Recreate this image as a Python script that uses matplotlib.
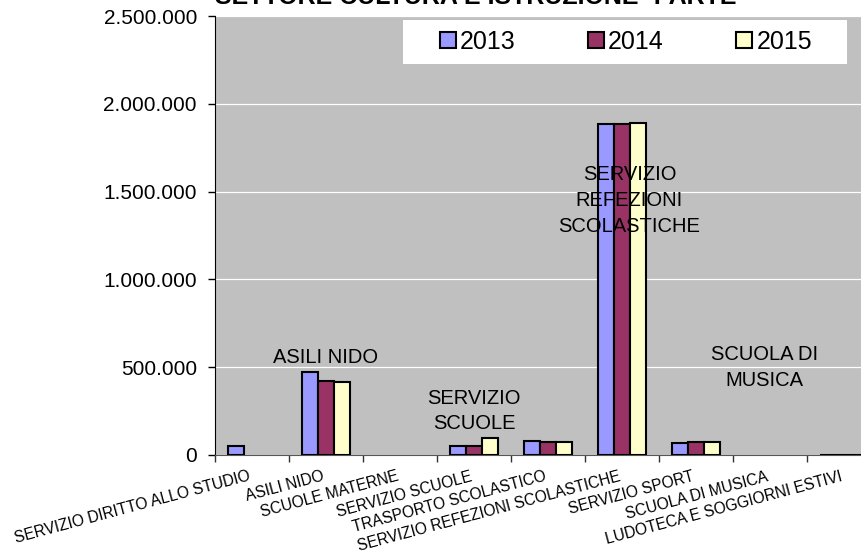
import numpy as np
import matplotlib
matplotlib.use("Agg")
import matplotlib.pyplot as plt
from matplotlib.patches import Rectangle
from matplotlib.ticker import FuncFormatter, FixedLocator

plt.rcParams['font.family'] = ['Liberation Sans', 'DejaVu Sans']

# data
categories = ['SERVIZIO DIRITTO ALLO STUDIO', 'ASILI NIDO', 'SCUOLE MATERNE',
              'SERVIZIO SCUOLE', 'TRASPORTO SCOLASTICO',
              'SERVIZIO REFEZIONI SCOLASTICHE', 'SERVIZIO SPORT',
              'SCUOLA DI MUSICA', 'LUDOTECA E SOGGIORNI ESTIVI']
years = ['2013', '2014', '2015']
v2013 = [51000, 472000, np.nan, 51000, 80000, 1886000, 68000, np.nan, 2000]
v2014 = [np.nan, 420000, np.nan, 51000, 75000, 1886000, 72000, np.nan, 2000]
v2015 = [np.nan, 414000, np.nan, 97000, 75000, 1892000, 72000, np.nan, 2000]
colors = ['#9999FF', '#993366', '#FFFFCC']

# labels written inside the plot area (category position, value)
notes = ['ASILI NIDO', 'SERVIZIO\nSCUOLE', 'SERVIZIO\nREFEZIONI\nSCOLASTICHE',
         'SCUOLA DI\nMUSICA']
note_x = [1.0, 3.0, 5.1, 6.93]
note_y = [557000, 250000, 1449000, 500000]

W, H = 862, 556
fig = plt.figure(figsize=(W / 100, H / 100), dpi=100)
# plot area runs past the right edge, as in the reference
ax = fig.add_axes([215 / W, 1 - 455 / H, (881 - 215) / W, (455 - 16) / H])
ax.set_facecolor('#C0C0C0')

x = np.arange(len(categories))
bw = 0.22
for i, (vals, c) in enumerate(zip([v2013, v2014, v2015], colors)):
    ax.bar(x + (i - 1) * bw, vals, width=bw, color=c, edgecolor='black',
           linewidth=1.5, label=years[i], zorder=3)

ax.set_xlim(-0.5, len(categories) - 0.5)
ax.set_ylim(0, 2500000)
ax.yaxis.set_major_locator(FixedLocator(np.arange(0, 2500001, 500000)))
ax.yaxis.set_major_formatter(FuncFormatter(lambda v, p: f"{int(v):,}".replace(',', '.')))
ax.grid(axis='y', color='white', linewidth=0.9, zorder=1)
ax.set_axisbelow(True)

ax.set_xticks(x)
ax.set_xticklabels(categories, rotation=15, ha='right', va='top',
                   fontsize=11.2)
ax.set_xticks(np.arange(-0.5, len(categories), 1.0), minor=True)
ax.tick_params(axis='x', which='major', length=0, pad=10)
ax.tick_params(axis='x', which='minor', length=5, width=1, color='#333333',
               direction='out')
ax.tick_params(axis='y', length=5, width=1, pad=8, labelsize=15,
               direction='out')

for s in ['top', 'right']:
    ax.spines[s].set_visible(False)
ax.spines['left'].set_color('black')
ax.spines['bottom'].set_color('#555555')

for t, nx, ny in zip(notes, note_x, note_y):
    ax.text(nx, ny, t, ha='center', va='center', multialignment='center',
            fontsize=14.5, linespacing=1.45, zorder=5)

# legend: white box with entries spread across it
fig.add_artist(Rectangle((403 / W, 1 - 64 / H), (847 - 403) / W, 44 / H,
                         transform=fig.transFigure, facecolor='white',
                         edgecolor='none', zorder=4))
handles, labels = ax.get_legend_handles_labels()
leg = fig.legend(handles, labels, loc='center',
                 bbox_to_anchor=(626 / W, 1 - 42 / H), ncol=3, frameon=False,
                 fontsize=18, handlelength=0.64, handleheight=0.64,
                 handletextpad=0.16, columnspacing=2.9)
leg.set_zorder(6)

fig.text(476 / W, 1 - 4 / H, 'SETTORE CULTURA E ISTRUZIONE- PARTE',
         ha='center', va='baseline', fontsize=18, fontweight='bold')

fig.savefig('out.png', dpi=100)
